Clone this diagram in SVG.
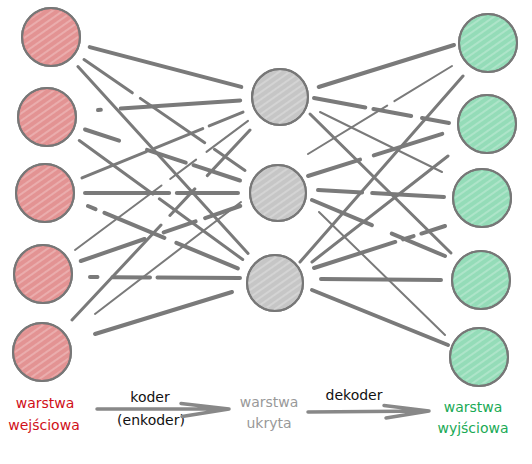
<svg xmlns="http://www.w3.org/2000/svg" width="532" height="464" viewBox="0 0 532 464">
<style>
.node{stroke:#777;stroke-width:2}
.in{fill:#e39393}
.hid{fill:#c6c6c6}
.out{fill:#94dcb8}
.hatch{fill:url(#hatch)}
.rim{fill:none;stroke:#777;stroke-width:2}
#connectors line{stroke:#7a7a7a;stroke-linecap:round;fill:none}
.w2{stroke-width:2}
.w3{stroke-width:3}
.w4{stroke-width:4}
.lbl{font-family:"DejaVu Sans",sans-serif;font-size:14px;text-anchor:middle}
.arrow{stroke:#888;stroke-width:3.5;fill:none;stroke-linecap:round;stroke-linejoin:round}
</style>
<defs>
<pattern id="hatch" width="6" height="6" patternUnits="userSpaceOnUse" patternTransform="rotate(-35)">
<line x1="0" y1="3" x2="6" y2="3" stroke="#fff" stroke-width="0.8" opacity="0.6"/>
</pattern>
</defs>
<g id="connectors">
<line class="w4" x1="89.7" y1="47.1" x2="241.3" y2="86.9"/>
<line class="w3" x1="84" y1="59.6" x2="245" y2="170.4" pathLength="100" stroke-dasharray="30 5 40 6 100"/>
<line class="w3" x1="77.9" y1="66.6" x2="248.1" y2="253.4"/>
<line class="w4" x1="98" y1="110" x2="240.2" y2="100.4" pathLength="100" stroke-dasharray="2 14 84"/>
<line class="w4" x1="85" y1="129.5" x2="240" y2="180.5" pathLength="100" stroke-dasharray="22 18 25 5 40"/>
<line class="w3" x1="79.3" y1="140.5" x2="242.7" y2="259.5" pathLength="100" stroke-dasharray="45 4 60"/>
<line class="w3" x1="82" y1="177.9" x2="243" y2="112.1" pathLength="100" stroke-dasharray="40 5 30 4 30"/>
<line class="w4" x1="85" y1="193" x2="238" y2="193" pathLength="100" stroke-dasharray="55 5 40"/>
<line class="w4" x1="88" y1="206" x2="237.8" y2="268.4" pathLength="100" stroke-dasharray="5 6 40 8 41"/>
<line class="w2" x1="75" y1="250" x2="248" y2="120.9" pathLength="100" stroke-dasharray="50 5 15 6 30"/>
<line class="w4" x1="80.8" y1="261" x2="240.2" y2="206" pathLength="100" stroke-dasharray="40 12 20 6 30"/>
<line class="w4" x1="90" y1="277" x2="240" y2="278" pathLength="100" stroke-dasharray="5 10 25 5 60"/>
<line class="w3" x1="72" y1="320" x2="250" y2="130" pathLength="100" stroke-dasharray="50 5 14 7 30"/>
<line class="w2" x1="95" y1="314" x2="241" y2="202"/>
<line class="w4" x1="95" y1="334" x2="232" y2="292"/>
<line class="w4" x1="318.7" y1="87" x2="454" y2="45"/>
<line class="w4" x1="314" y1="98" x2="449" y2="123" pathLength="100" stroke-dasharray="38 6 28 8 30"/>
<line class="w2" x1="320" y1="112" x2="442" y2="172"/>
<line class="w3" x1="310" y1="114" x2="451" y2="253"/>
<line class="w2" x1="319" y1="212" x2="445" y2="335"/>
<line class="w2" x1="308" y1="154" x2="452" y2="66" pathLength="100" stroke-dasharray="55 5 40"/>
<line class="w4" x1="308" y1="176" x2="445" y2="133" pathLength="100" stroke-dasharray="38 10 50"/>
<line class="w4" x1="318" y1="190" x2="444" y2="197" pathLength="100" stroke-dasharray="35 8 60"/>
<line class="w4" x1="312" y1="200" x2="445" y2="256" pathLength="100" stroke-dasharray="45 15 40"/>
<line class="w3" x1="300" y1="262" x2="463" y2="76"/>
<line class="w3" x1="312" y1="262" x2="448" y2="156"/>
<line class="w4" x1="314" y1="268" x2="445" y2="226" pathLength="100" stroke-dasharray="62 6 8 6 20"/>
<line class="w4" x1="321" y1="279" x2="441" y2="280"/>
<line class="w4" x1="312" y1="290" x2="448" y2="345"/>
</g>
<g id="in1"><circle class="node in" cx="51" cy="37" r="29"/><circle class="hatch" cx="51" cy="37" r="27"/><circle class="rim" cx="51" cy="37" r="29"/></g>
<g id="in2"><circle class="node in" cx="47" cy="117" r="29"/><circle class="hatch" cx="47" cy="117" r="27"/><circle class="rim" cx="47" cy="117" r="29"/></g>
<g id="in3"><circle class="node in" cx="45" cy="193" r="29"/><circle class="hatch" cx="45" cy="193" r="27"/><circle class="rim" cx="45" cy="193" r="29"/></g>
<g id="in4"><circle class="node in" cx="43" cy="274" r="29"/><circle class="hatch" cx="43" cy="274" r="27"/><circle class="rim" cx="43" cy="274" r="29"/></g>
<g id="in5"><circle class="node in" cx="42" cy="352" r="29"/><circle class="hatch" cx="42" cy="352" r="27"/><circle class="rim" cx="42" cy="352" r="29"/></g>
<g id="hid1"><circle class="node hid" cx="280" cy="97" r="28"/><circle class="hatch" cx="280" cy="97" r="26"/><circle class="rim" cx="280" cy="97" r="28"/></g>
<g id="hid2"><circle class="node hid" cx="278" cy="193" r="28"/><circle class="hatch" cx="278" cy="193" r="26"/><circle class="rim" cx="278" cy="193" r="28"/></g>
<g id="hid3"><circle class="node hid" cx="275" cy="283" r="28"/><circle class="hatch" cx="275" cy="283" r="26"/><circle class="rim" cx="275" cy="283" r="28"/></g>
<g id="out1"><circle class="node out" cx="488" cy="43" r="29"/><circle class="hatch" cx="488" cy="43" r="27"/><circle class="rim" cx="488" cy="43" r="29"/></g>
<g id="out2"><circle class="node out" cx="487" cy="124" r="29"/><circle class="hatch" cx="487" cy="124" r="27"/><circle class="rim" cx="487" cy="124" r="29"/></g>
<g id="out3"><circle class="node out" cx="482" cy="198" r="29"/><circle class="hatch" cx="482" cy="198" r="27"/><circle class="rim" cx="482" cy="198" r="29"/></g>
<g id="out4"><circle class="node out" cx="481" cy="280" r="29"/><circle class="hatch" cx="481" cy="280" r="27"/><circle class="rim" cx="481" cy="280" r="29"/></g>
<g id="out5"><circle class="node out" cx="479" cy="357" r="29"/><circle class="hatch" cx="479" cy="357" r="27"/><circle class="rim" cx="479" cy="357" r="29"/></g>
<g id="labels">
<text class="lbl" x="45" y="408" fill="#d01018">warstwa</text>
<text class="lbl" x="44" y="430" fill="#d01018">wejściowa</text>
<text class="lbl" x="150" y="402" fill="#111">koder</text>
<text class="lbl" x="151" y="425" fill="#111">(enkoder)</text>
<text class="lbl" x="269" y="407" fill="#999">warstwa</text>
<text class="lbl" x="269" y="428" fill="#999">ukryta</text>
<text class="lbl" x="354" y="400" fill="#111">dekoder</text>
<text class="lbl" x="473" y="412" fill="#1aaa55">warstwa</text>
<text class="lbl" x="473" y="433" fill="#1aaa55">wyjściowa</text>
</g>
<g id="arrows">
<path class="arrow" d="M97 409 L229 409 M181 403.5 L229 409 L182 416.5"/>
<path class="arrow" d="M308 412 L429 411 M384 405.5 L429 411 L386 418"/>
</g>
</svg>
